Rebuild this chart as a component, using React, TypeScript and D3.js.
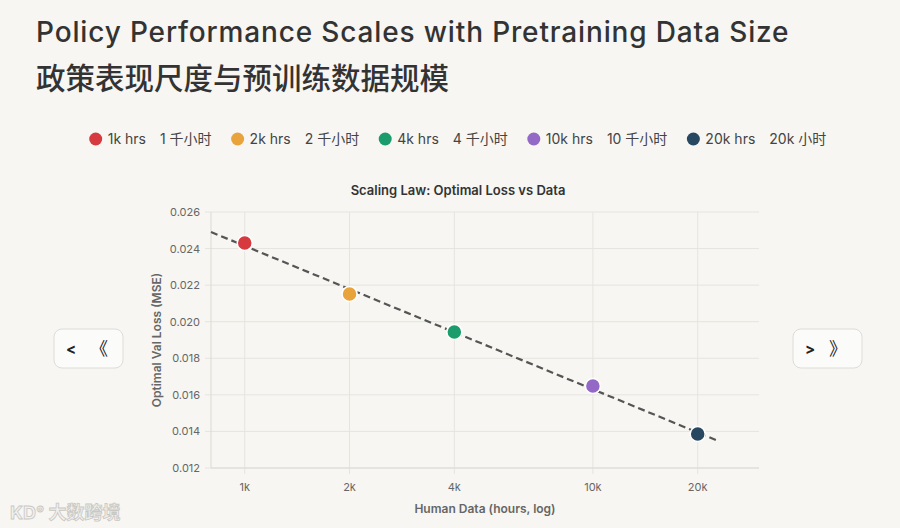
import React, { useEffect, useRef } from 'react';
import * as d3 from 'd3';

// data
const hours = [1000, 2000, 4000, 10000, 20000];
const losses = [0.0243, 0.02152, 0.01944, 0.01648, 0.01386];
const labelsEn = ['1k hrs', '2k hrs', '4k hrs', '10k hrs', '20k hrs'];
const labelsZh = ['1 千小时', '2 千小时', '4 千小时', '10 千小时', '20k 小时'];
const colors = ['#d63a3f', '#e9a33b', '#1b9c6c', '#9468c6', '#274860'];
const xTicks = [1000, 2000, 4000, 10000, 20000];
const xTickLabels = ['1k', '2k', '4k', '10k', '20k'];
const yTicks = [0.012, 0.014, 0.016, 0.018, 0.02, 0.022, 0.024, 0.026];
const fitRange = [800, 23000];

const W = 900;
const H = 528;
const font = 'Inter, "Noto Sans CJK SC", sans-serif';

const App: React.FC = () => {
  const svgRef = useRef<SVGSVGElement | null>(null);

  useEffect(() => {
    const svg = d3.select(svgRef.current);
    svg.selectAll('*').remove();

    const margin = { top: 212, right: 141, bottom: 60, left: 211 };

    svg.append('rect').attr('width', W).attr('height', H).attr('fill', '#f7f6f2');

    // titles
    svg.append('text')
      .attr('x', 36).attr('y', 42)
      .attr('font-size', 28).attr('font-weight', 500)
      .attr('letter-spacing', 0.85)
      .attr('fill', '#333').attr('font-family', font)
      .text('Policy Performance Scales with Pretraining Data Size');
    svg.append('text')
      .attr('x', 36).attr('y', 89)
      .attr('font-size', 29.5).attr('font-weight', 500)
      .attr('fill', '#333').attr('font-family', font)
      .text('政策表现尺度与预训练数据规模');

    // legend, laid out by measured text widths
    const legend = svg.append('g').attr('font-family', font).attr('font-size', 14).attr('fill', '#444');
    let cx = 0;
    hours.forEach((_, i) => {
      const item = legend.append('g').attr('transform', `translate(${cx},0)`);
      item.append('circle').attr('cx', 6).attr('cy', 0).attr('r', 6.5).attr('fill', colors[i]);
      const t1 = item.append('text').attr('x', 18).attr('y', 5).text(labelsEn[i]);
      const w1 = (t1.node() as SVGTextElement).getComputedTextLength();
      const t2 = item.append('text').attr('x', 18 + w1 + 14).attr('y', 5).text(labelsZh[i]);
      const w2 = (t2.node() as SVGTextElement).getComputedTextLength();
      cx += 18 + w1 + 14 + w2 + 20;
    });
    const legendW = cx - 20;
    legend.attr('transform', `translate(${458 - legendW / 2},139)`);

    // chart
    const x = d3.scaleLog().domain([800, 30000]).range([margin.left, W - margin.right]);
    const y = d3.scaleLinear().domain([0.012, 0.026]).range([H - margin.bottom, margin.top]);

    const grid = svg.append('g').attr('stroke', '#e6e4df').attr('stroke-width', 1);
    yTicks.forEach((t) => {
      grid.append('line')
        .attr('x1', margin.left - 6).attr('x2', W - margin.right)
        .attr('y1', y(t)).attr('y2', y(t));
    });
    xTicks.forEach((t) => {
      grid.append('line')
        .attr('x1', x(t)).attr('x2', x(t))
        .attr('y1', margin.top).attr('y2', H - margin.bottom + 6);
    });
    svg.append('line')
      .attr('x1', margin.left).attr('x2', margin.left)
      .attr('y1', margin.top).attr('y2', H - margin.bottom)
      .attr('stroke', '#dcdad5');
    svg.append('line')
      .attr('x1', margin.left).attr('x2', W - margin.right)
      .attr('y1', H - margin.bottom).attr('y2', H - margin.bottom)
      .attr('stroke', '#dcdad5');

    const tickG = svg.append('g').attr('font-family', font).attr('font-size', 11).attr('fill', '#666');
    yTicks.forEach((t) => {
      tickG.append('text')
        .attr('x', margin.left - 11).attr('y', y(t) + 4)
        .attr('text-anchor', 'end')
        .text(t.toFixed(3));
    });
    xTicks.forEach((t, i) => {
      tickG.append('text')
        .attr('x', x(t)).attr('y', H - margin.bottom + 23)
        .attr('text-anchor', 'middle')
        .text(xTickLabels[i]);
    });

    svg.append('text')
      .attr('x', 458).attr('y', 195)
      .attr('text-anchor', 'middle')
      .attr('font-family', font).attr('font-size', 13).attr('font-weight', 600)
      .attr('fill', '#333')
      .text('Scaling Law: Optimal Loss vs Data');

    svg.append('text')
      .attr('x', (margin.left + W - margin.right) / 2).attr('y', 513)
      .attr('text-anchor', 'middle')
      .attr('font-family', font).attr('font-size', 12).attr('font-weight', 600)
      .attr('fill', '#666')
      .text('Human Data (hours, log)');
    svg.append('text')
      .attr('transform', `translate(161,${(margin.top + H - margin.bottom) / 2}) rotate(-90)`)
      .attr('text-anchor', 'middle')
      .attr('font-family', font).attr('font-size', 12).attr('font-weight', 600)
      .attr('fill', '#666')
      .text('Optimal Val Loss (MSE)');

    // fitted trend: least squares of loss on log10(hours)
    const lx = hours.map((h) => Math.log10(h));
    const mx = d3.mean(lx)!;
    const my = d3.mean(losses)!;
    const slope = d3.sum(lx, (v, i) => (v - mx) * (losses[i] - my)) / d3.sum(lx, (v) => (v - mx) ** 2);
    const fit = (h: number) => my + slope * (Math.log10(h) - mx);
    const fitLine = d3.line<number>().x((h) => x(h)).y((h) => y(fit(h)));
    svg.append('path')
      .attr('d', fitLine(fitRange))
      .attr('fill', 'none').attr('stroke', '#555')
      .attr('stroke-width', 2.2).attr('stroke-dasharray', '7,4');

    svg.append('g').selectAll('circle')
      .data(hours)
      .join('circle')
      .attr('cx', (d) => x(d))
      .attr('cy', (_, i) => y(losses[i]))
      .attr('r', 7.5)
      .attr('fill', (_, i) => colors[i])
      .attr('stroke', '#fff').attr('stroke-width', 1.5);

    // nav buttons
    const buttons = [
      { x: 54, label: '<', arrow: '《' },
      { x: 793, label: '>', arrow: '》' },
    ];
    buttons.forEach((b) => {
      const g = svg.append('g').attr('transform', `translate(${b.x},329)`);
      g.append('rect').attr('width', 69).attr('height', 39).attr('rx', 8)
        .attr('fill', '#fbfbfa').attr('stroke', '#dedcd8');
      g.append('text').attr('x', 17).attr('y', 25).attr('text-anchor', 'middle')
        .attr('font-family', font).attr('font-size', 15).attr('font-weight', 'bold').attr('fill', '#222')
        .text(b.label);
      g.append('text').attr('x', 45).attr('y', 26).attr('text-anchor', 'middle')
        .attr('font-family', font).attr('font-size', 18).attr('fill', '#222')
        .text(b.arrow);
    });

    // watermark
    svg.append('text')
      .attr('x', 10).attr('y', 519)
      .attr('font-family', font).attr('font-size', 18).attr('font-weight', 'bold')
      .attr('fill', '#f2f1ee').attr('stroke', '#c9c7c3').attr('stroke-width', 0.8)
      .text('KD° 大数跨境');
  }, []);

  return (
    <div style={{ position: 'absolute', left: 0, top: 0 }}>
      <svg ref={svgRef} width={W} height={H} style={{ display: 'block' }}></svg>
    </div>
  );
};

export default App;
